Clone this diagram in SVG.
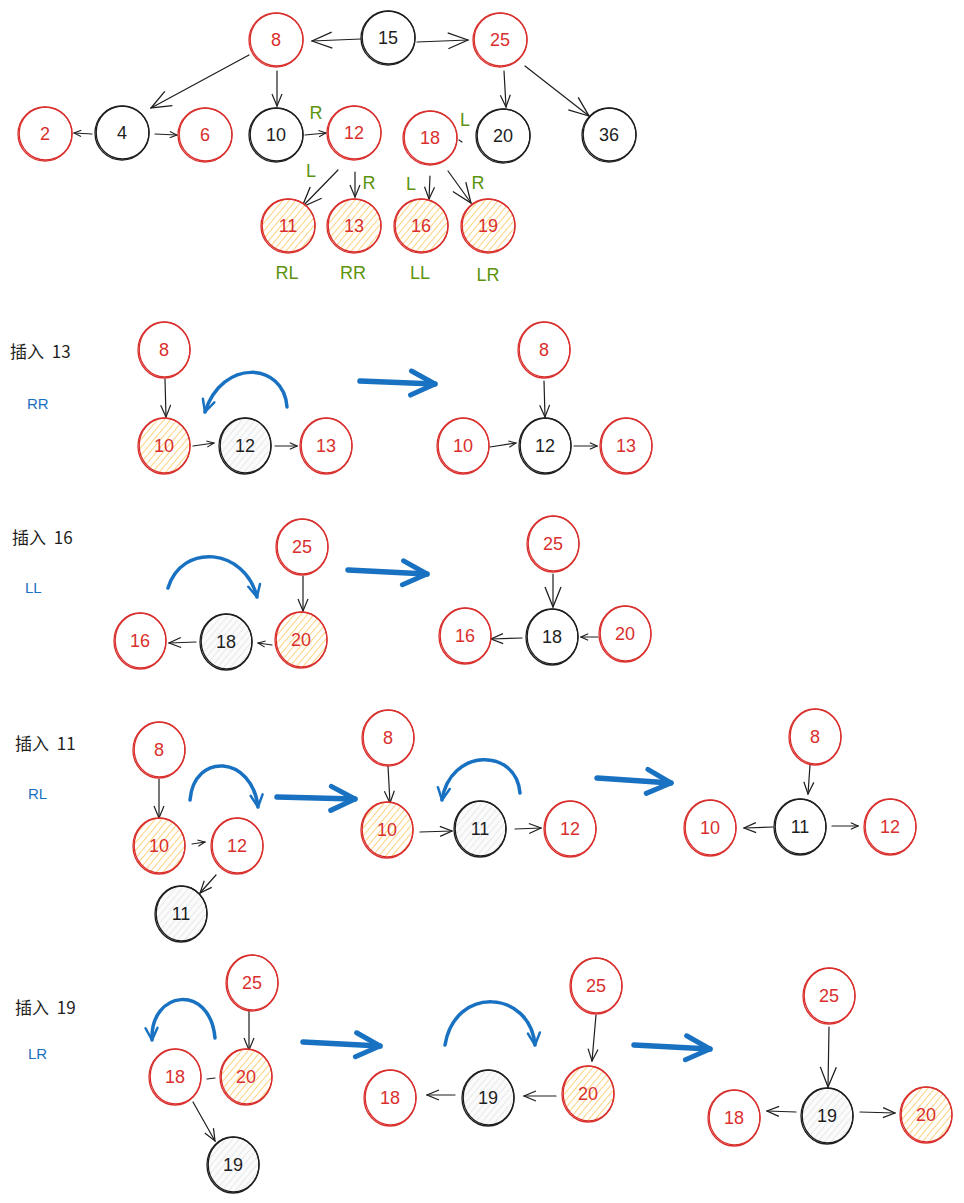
<svg xmlns="http://www.w3.org/2000/svg" width="964" height="1203" viewBox="0 0 964 1203">
<defs>
<style>
.r{fill:none;stroke:#d9302e;stroke-width:1.3}
.k{fill:none;stroke:#1e1e1e;stroke-width:1.3}
.ho{fill:url(#hatchO)}
.hg{fill:url(#hatchG)}
.tr{font-family:"Liberation Sans",sans-serif;font-size:18px;fill:#d9302e;text-anchor:middle}
.tk{font-family:"Liberation Sans",sans-serif;font-size:18px;fill:#1e1e1e;text-anchor:middle}
.tg{font-family:"Liberation Sans",sans-serif;font-size:18px;fill:#5c940d;text-anchor:middle}
.tb{font-family:"Liberation Sans",sans-serif;font-size:15px;fill:#1971c2}
.tl{font-family:"Noto Sans CJK SC","Liberation Sans",sans-serif;font-size:17px;fill:#1e1e1e;word-spacing:4px}
.c{fill:none;stroke:#1e1e1e;stroke-width:1.2;stroke-linecap:round}
.cs{marker-end:url(#s)}
.cm{marker-end:url(#m)}
.cL{marker-end:url(#L)}
.bc{fill:none;stroke:#1971c2;stroke-width:3.5;stroke-linecap:round;marker-end:url(#bh)}
.ba{fill:none;stroke:#1971c2;stroke-width:5.5;stroke-linecap:round;marker-end:url(#BH)}
</style>
<pattern id="hatchO" width="5" height="5" patternUnits="userSpaceOnUse" patternTransform="rotate(40)">
<rect width="5" height="5" fill="#ffffff"/>
<line x1="0" y1="0" x2="0" y2="5" stroke="#fcc454" stroke-width="1.5"/>
</pattern>
<pattern id="hatchG" width="5" height="5" patternUnits="userSpaceOnUse" patternTransform="rotate(40)">
<rect width="5" height="5" fill="#fbfbfc"/>
<line x1="0" y1="0" x2="0" y2="5" stroke="#d5dae0" stroke-width="1.1"/>
</pattern>
<marker id="s" viewBox="0 0 10 10" refX="9" refY="5" markerWidth="9" markerHeight="9" orient="auto" markerUnits="userSpaceOnUse">
<path d="M1,1.5 L9,5 L1,8.5" fill="none" stroke="#1e1e1e" stroke-width="1.2"/>
</marker>
<marker id="m" viewBox="0 0 14 14" refX="13" refY="7" markerWidth="14" markerHeight="14" orient="auto" markerUnits="userSpaceOnUse">
<path d="M1,2 L13,7 L1,12" fill="none" stroke="#1e1e1e" stroke-width="1.2"/>
</marker>
<marker id="L" viewBox="0 0 22 22" refX="21" refY="11" markerWidth="22" markerHeight="22" orient="auto" markerUnits="userSpaceOnUse">
<path d="M1,3 L21,11 L1,19" fill="none" stroke="#1e1e1e" stroke-width="1.3"/>
</marker>
<marker id="bh" viewBox="0 0 16 16" refX="14" refY="8" markerWidth="16" markerHeight="16" orient="auto" markerUnits="userSpaceOnUse">
<path d="M2,2 L14,8 L2,14" fill="none" stroke="#1971c2" stroke-width="2.5" stroke-linecap="round" stroke-linejoin="round"/>
</marker>
<marker id="BH" viewBox="0 0 30 30" refX="27" refY="15" markerWidth="30" markerHeight="30" orient="auto" markerUnits="userSpaceOnUse">
<path d="M3,3 L27,15 L3,27" fill="none" stroke="#1971c2" stroke-width="5" stroke-linecap="round" stroke-linejoin="round"/>
</marker>
</defs>
<rect width="964" height="1203" fill="#ffffff"/>

<g id="connectors">
<line class="c cL" x1="361" y1="39" x2="312" y2="41"/>
<line class="c cL" x1="417" y1="42" x2="468" y2="40"/>
<line class="c cL" x1="249" y1="55" x2="151" y2="108"/>
<line class="c cm" x1="277" y1="71" x2="277" y2="106"/>
<line class="c cm" x1="504" y1="71" x2="506" y2="107"/>
<line class="c cL" x1="525" y1="66" x2="589" y2="116"/>
<line class="c cs" x1="92" y1="134" x2="74" y2="133"/>
<line class="c cs" x1="155" y1="134" x2="177" y2="135"/>
<line class="c cs" x1="305" y1="135" x2="326" y2="133"/>
<line class="c cL" x1="338" y1="170" x2="302" y2="207"/>
<line class="c cm" x1="355" y1="172" x2="355" y2="197"/>
<line class="c cm" x1="430" y1="176" x2="429" y2="199"/>
<line class="c cL" x1="448" y1="171" x2="471" y2="203"/>
<line class="c" x1="459" y1="140" x2="462" y2="142"/>

<line class="c cm" x1="165" y1="379" x2="166" y2="417"/>
<line class="c cs" x1="193" y1="446" x2="214" y2="443"/>
<line class="c cs" x1="275" y1="446" x2="297" y2="446"/>
<line class="c cm" x1="544" y1="381" x2="545" y2="417"/>
<line class="c cs" x1="490" y1="447" x2="516" y2="443"/>
<line class="c cs" x1="574" y1="446" x2="597" y2="446"/>
<path class="bc" d="M287,407 C284,362 222,358 205,412"/>
<line class="ba" x1="360" y1="381" x2="435" y2="384"/>

<line class="c cm" x1="303" y1="576" x2="303" y2="611"/>
<line class="c cs" x1="272" y1="645" x2="258" y2="643"/>
<line class="c cm" x1="196" y1="642" x2="169" y2="643"/>
<line class="c cL" x1="553" y1="574" x2="553" y2="607"/>
<line class="c cm" x1="522" y1="638" x2="491" y2="639"/>
<line class="c cs" x1="598" y1="637" x2="581" y2="637"/>
<path class="bc" d="M168,588 C182,542 245,548 257,597"/>
<line class="ba" x1="348" y1="570" x2="427" y2="574"/>

<line class="c cm" x1="159" y1="779" x2="159" y2="818"/>
<line class="c cs" x1="192" y1="844" x2="205" y2="842"/>
<line class="c cm" x1="216" y1="875" x2="200" y2="893"/>
<line class="c cm" x1="388" y1="766" x2="390" y2="803"/>
<line class="c cm" x1="420" y1="832" x2="452" y2="831"/>
<line class="c cm" x1="515" y1="829" x2="541" y2="828"/>
<line class="c cm" x1="810" y1="765" x2="808" y2="794"/>
<line class="c cm" x1="773" y1="827" x2="744" y2="828"/>
<line class="c cs" x1="832" y1="826" x2="858" y2="826"/>
<path class="bc" d="M190,800 C194,752 252,755 258,807"/>
<path class="bc" d="M520,793 C516,747 450,748 442,800"/>
<line class="ba" x1="277" y1="797" x2="355" y2="799"/>
<line class="ba" x1="597" y1="778" x2="671" y2="783"/>

<line class="c cm" x1="249" y1="1011" x2="249" y2="1050"/>
<line class="c" x1="215" y1="1078" x2="207" y2="1079"/>
<line class="c cm" x1="193" y1="1102" x2="215" y2="1141"/>
<line class="c cm" x1="596" y1="1015" x2="592" y2="1061"/>
<line class="c cm" x1="556" y1="1096" x2="524" y2="1096"/>
<line class="c cm" x1="455" y1="1095" x2="427" y2="1095"/>
<line class="c cL" x1="829" y1="1027" x2="828" y2="1087"/>
<line class="c cm" x1="796" y1="1112" x2="767" y2="1111"/>
<line class="c cm" x1="860" y1="1112" x2="895" y2="1113"/>
<path class="bc" d="M215,1038 C210,983 150,990 152,1040"/>
<path class="bc" d="M445,1045 C455,985 530,990 535,1045"/>
<line class="ba" x1="303" y1="1042" x2="380" y2="1046"/>
<line class="ba" x1="634" y1="1045" x2="710" y2="1049"/>
</g>

<g id="labels">
<text class="tg" x="316" y="119">R</text>
<text class="tg" x="311" y="177">L</text>
<text class="tg" x="369" y="189">R</text>
<text class="tg" x="411" y="190">L</text>
<text class="tg" x="478" y="189">R</text>
<text class="tg" x="465" y="126">L</text>
<text class="tg" x="287" y="279">RL</text>
<text class="tg" x="353" y="279">RR</text>
<text class="tg" x="420" y="279">LL</text>
<text class="tg" x="488" y="281">LR</text>
<text class="tl" x="10" y="358">插入 13</text>
<text class="tb" x="27" y="409">RR</text>
<text class="tl" x="12" y="544">插入 16</text>
<text class="tb" x="25" y="593">LL</text>
<text class="tl" x="15" y="750">插入 11</text>
<text class="tb" x="28" y="799">RL</text>
<text class="tl" x="15" y="1014">插入 19</text>
<text class="tb" x="28" y="1059">LR</text>
</g>

<g id="t15"><circle class="k" cx="388" cy="38" r="27"/><circle class="k" cx="388.6" cy="37.5" r="26.4"/><text class="tk" x="388" y="44">15</text></g>
<g id="t8"><circle class="r" cx="276" cy="40" r="27"/><circle class="r" cx="276.6" cy="39.5" r="26.4"/><text class="tr" x="276" y="46">8</text></g>
<g id="t25"><circle class="r" cx="500" cy="40" r="27"/><circle class="r" cx="500.6" cy="39.5" r="26.4"/><text class="tr" x="500" y="46">25</text></g>
<g id="t2"><circle class="r" cx="45" cy="134" r="27"/><circle class="r" cx="45.6" cy="133.5" r="26.4"/><text class="tr" x="45" y="140">2</text></g>
<g id="t4"><circle class="k" cx="122" cy="133" r="27"/><circle class="k" cx="122.6" cy="132.5" r="26.4"/><text class="tk" x="122" y="139">4</text></g>
<g id="t6"><circle class="r" cx="205" cy="135" r="27"/><circle class="r" cx="205.6" cy="134.5" r="26.4"/><text class="tr" x="205" y="141">6</text></g>
<g id="t10"><circle class="k" cx="276" cy="135" r="27"/><circle class="k" cx="276.6" cy="134.5" r="26.4"/><text class="tk" x="276" y="141">10</text></g>
<g id="t12"><circle class="r" cx="354" cy="133" r="27"/><circle class="r" cx="354.6" cy="132.5" r="26.4"/><text class="tr" x="354" y="139">12</text></g>
<g id="t18"><circle class="r" cx="430" cy="138" r="27"/><circle class="r" cx="430.6" cy="137.5" r="26.4"/><text class="tr" x="430" y="144">18</text></g>
<g id="t20"><circle class="k" cx="503" cy="136" r="27"/><circle class="k" cx="503.6" cy="135.5" r="26.4"/><text class="tk" x="503" y="142">20</text></g>
<g id="t36"><circle class="k" cx="609" cy="135" r="27"/><circle class="k" cx="609.6" cy="134.5" r="26.4"/><text class="tk" x="609" y="141">36</text></g>
<g id="t11"><circle class="r ho" cx="288" cy="226" r="27"/><circle class="r" cx="288.6" cy="225.5" r="26.4"/><text class="tr" x="288" y="232">11</text></g>
<g id="t13"><circle class="r ho" cx="354" cy="226" r="27"/><circle class="r" cx="354.6" cy="225.5" r="26.4"/><text class="tr" x="354" y="232">13</text></g>
<g id="t16"><circle class="r ho" cx="421" cy="226" r="27"/><circle class="r" cx="421.6" cy="225.5" r="26.4"/><text class="tr" x="421" y="232">16</text></g>
<g id="t19"><circle class="r ho" cx="488" cy="226" r="27"/><circle class="r" cx="488.6" cy="225.5" r="26.4"/><text class="tr" x="488" y="232">19</text></g>

<g id="s1a8"><ellipse class="r" cx="164" cy="350" rx="26" ry="28"/><ellipse class="r" cx="164.6" cy="349.5" rx="25.4" ry="27.4"/><text class="tr" x="164" y="356">8</text></g>
<g id="s1a10"><ellipse class="r ho" cx="164" cy="446" rx="26" ry="28"/><ellipse class="r" cx="164.6" cy="445.5" rx="25.4" ry="27.4"/><text class="tr" x="164" y="452">10</text></g>
<g id="s1a12"><ellipse class="k hg" cx="245" cy="446" rx="26" ry="28"/><ellipse class="k" cx="245.6" cy="445.5" rx="25.4" ry="27.4"/><text class="tk" x="245" y="452">12</text></g>
<g id="s1a13"><ellipse class="r" cx="326" cy="446" rx="26" ry="28"/><ellipse class="r" cx="326.6" cy="445.5" rx="25.4" ry="27.4"/><text class="tr" x="326" y="452">13</text></g>
<g id="s1b8"><ellipse class="r" cx="544" cy="350" rx="26" ry="28"/><ellipse class="r" cx="544.6" cy="349.5" rx="25.4" ry="27.4"/><text class="tr" x="544" y="356">8</text></g>
<g id="s1b10"><ellipse class="r" cx="463" cy="446" rx="26" ry="28"/><ellipse class="r" cx="463.6" cy="445.5" rx="25.4" ry="27.4"/><text class="tr" x="463" y="452">10</text></g>
<g id="s1b12"><ellipse class="k" cx="545" cy="446" rx="26" ry="28"/><ellipse class="k" cx="545.6" cy="445.5" rx="25.4" ry="27.4"/><text class="tk" x="545" y="452">12</text></g>
<g id="s1b13"><ellipse class="r" cx="626" cy="446" rx="26" ry="28"/><ellipse class="r" cx="626.6" cy="445.5" rx="25.4" ry="27.4"/><text class="tr" x="626" y="452">13</text></g>

<g id="s2a25"><ellipse class="r" cx="302" cy="547" rx="26" ry="28"/><ellipse class="r" cx="302.6" cy="546.5" rx="25.4" ry="27.4"/><text class="tr" x="302" y="553">25</text></g>
<g id="s2a20"><ellipse class="r ho" cx="301" cy="640" rx="26" ry="28"/><ellipse class="r" cx="301.6" cy="639.5" rx="25.4" ry="27.4"/><text class="tr" x="301" y="646">20</text></g>
<g id="s2a18"><ellipse class="k hg" cx="226" cy="642" rx="26" ry="28"/><ellipse class="k" cx="226.6" cy="641.5" rx="25.4" ry="27.4"/><text class="tk" x="226" y="648">18</text></g>
<g id="s2a16"><ellipse class="r" cx="140" cy="641" rx="26" ry="28"/><ellipse class="r" cx="140.6" cy="640.5" rx="25.4" ry="27.4"/><text class="tr" x="140" y="647">16</text></g>
<g id="s2b25"><ellipse class="r" cx="553" cy="544" rx="26" ry="28"/><ellipse class="r" cx="553.6" cy="543.5" rx="25.4" ry="27.4"/><text class="tr" x="553" y="550">25</text></g>
<g id="s2b18"><ellipse class="k" cx="552" cy="637" rx="26" ry="28"/><ellipse class="k" cx="552.6" cy="636.5" rx="25.4" ry="27.4"/><text class="tk" x="552" y="643">18</text></g>
<g id="s2b16"><ellipse class="r" cx="465" cy="636" rx="26" ry="28"/><ellipse class="r" cx="465.6" cy="635.5" rx="25.4" ry="27.4"/><text class="tr" x="465" y="642">16</text></g>
<g id="s2b20"><ellipse class="r" cx="625" cy="634" rx="26" ry="28"/><ellipse class="r" cx="625.6" cy="633.5" rx="25.4" ry="27.4"/><text class="tr" x="625" y="640">20</text></g>

<g id="s3a8"><ellipse class="r" cx="159" cy="750" rx="26" ry="28"/><ellipse class="r" cx="159.6" cy="749.5" rx="25.4" ry="27.4"/><text class="tr" x="159" y="756">8</text></g>
<g id="s3a10"><ellipse class="r ho" cx="159" cy="846" rx="26" ry="28"/><ellipse class="r" cx="159.6" cy="845.5" rx="25.4" ry="27.4"/><text class="tr" x="159" y="852">10</text></g>
<g id="s3a12"><ellipse class="r" cx="237" cy="846" rx="26" ry="28"/><ellipse class="r" cx="237.6" cy="845.5" rx="25.4" ry="27.4"/><text class="tr" x="237" y="852">12</text></g>
<g id="s3a11"><ellipse class="k hg" cx="181" cy="914" rx="26" ry="28"/><ellipse class="k" cx="181.6" cy="913.5" rx="25.4" ry="27.4"/><text class="tk" x="181" y="920">11</text></g>
<g id="s3b8"><ellipse class="r" cx="388" cy="738" rx="26" ry="28"/><ellipse class="r" cx="388.6" cy="737.5" rx="25.4" ry="27.4"/><text class="tr" x="388" y="744">8</text></g>
<g id="s3b10"><ellipse class="r ho" cx="387" cy="830" rx="26" ry="28"/><ellipse class="r" cx="387.6" cy="829.5" rx="25.4" ry="27.4"/><text class="tr" x="387" y="836">10</text></g>
<g id="s3b11"><ellipse class="k hg" cx="480" cy="829" rx="26" ry="28"/><ellipse class="k" cx="480.6" cy="828.5" rx="25.4" ry="27.4"/><text class="tk" x="480" y="835">11</text></g>
<g id="s3b12"><ellipse class="r" cx="570" cy="829" rx="26" ry="28"/><ellipse class="r" cx="570.6" cy="828.5" rx="25.4" ry="27.4"/><text class="tr" x="570" y="835">12</text></g>
<g id="s3c8"><ellipse class="r" cx="815" cy="737" rx="26" ry="28"/><ellipse class="r" cx="815.6" cy="736.5" rx="25.4" ry="27.4"/><text class="tr" x="815" y="743">8</text></g>
<g id="s3c10"><ellipse class="r" cx="710" cy="828" rx="26" ry="28"/><ellipse class="r" cx="710.6" cy="827.5" rx="25.4" ry="27.4"/><text class="tr" x="710" y="834">10</text></g>
<g id="s3c11"><ellipse class="k" cx="800" cy="827" rx="26" ry="28"/><ellipse class="k" cx="800.6" cy="826.5" rx="25.4" ry="27.4"/><text class="tk" x="800" y="833">11</text></g>
<g id="s3c12"><ellipse class="r" cx="890" cy="827" rx="26" ry="28"/><ellipse class="r" cx="890.6" cy="826.5" rx="25.4" ry="27.4"/><text class="tr" x="890" y="833">12</text></g>

<g id="s4a25"><ellipse class="r" cx="252" cy="983" rx="26" ry="28"/><ellipse class="r" cx="252.6" cy="982.5" rx="25.4" ry="27.4"/><text class="tr" x="252" y="989">25</text></g>
<g id="s4a20"><ellipse class="r ho" cx="246" cy="1077" rx="26" ry="28"/><ellipse class="r" cx="246.6" cy="1076.5" rx="25.4" ry="27.4"/><text class="tr" x="246" y="1083">20</text></g>
<g id="s4a18"><ellipse class="r" cx="175" cy="1077" rx="26" ry="28"/><ellipse class="r" cx="175.6" cy="1076.5" rx="25.4" ry="27.4"/><text class="tr" x="175" y="1083">18</text></g>
<g id="s4a19"><ellipse class="k hg" cx="233" cy="1165" rx="26" ry="28"/><ellipse class="k" cx="233.6" cy="1164.5" rx="25.4" ry="27.4"/><text class="tk" x="233" y="1171">19</text></g>
<g id="s4b25"><ellipse class="r" cx="596" cy="986" rx="26" ry="28"/><ellipse class="r" cx="596.6" cy="985.5" rx="25.4" ry="27.4"/><text class="tr" x="596" y="992">25</text></g>
<g id="s4b20"><ellipse class="r ho" cx="588" cy="1094" rx="26" ry="28"/><ellipse class="r" cx="588.6" cy="1093.5" rx="25.4" ry="27.4"/><text class="tr" x="588" y="1100">20</text></g>
<g id="s4b19"><ellipse class="k hg" cx="488" cy="1098" rx="26" ry="28"/><ellipse class="k" cx="488.6" cy="1097.5" rx="25.4" ry="27.4"/><text class="tk" x="488" y="1104">19</text></g>
<g id="s4b18"><ellipse class="r" cx="390" cy="1098" rx="26" ry="28"/><ellipse class="r" cx="390.6" cy="1097.5" rx="25.4" ry="27.4"/><text class="tr" x="390" y="1104">18</text></g>
<g id="s4c25"><ellipse class="r" cx="829" cy="996" rx="26" ry="28"/><ellipse class="r" cx="829.6" cy="995.5" rx="25.4" ry="27.4"/><text class="tr" x="829" y="1002">25</text></g>
<g id="s4c19"><ellipse class="k hg" cx="827" cy="1116" rx="26" ry="28"/><ellipse class="k" cx="827.6" cy="1115.5" rx="25.4" ry="27.4"/><text class="tk" x="827" y="1122">19</text></g>
<g id="s4c18"><ellipse class="r" cx="734" cy="1118" rx="26" ry="28"/><ellipse class="r" cx="734.6" cy="1117.5" rx="25.4" ry="27.4"/><text class="tr" x="734" y="1124">18</text></g>
<g id="s4c20"><ellipse class="r ho" cx="926" cy="1115" rx="26" ry="28"/><ellipse class="r" cx="926.6" cy="1114.5" rx="25.4" ry="27.4"/><text class="tr" x="926" y="1121">20</text></g>
</svg>
